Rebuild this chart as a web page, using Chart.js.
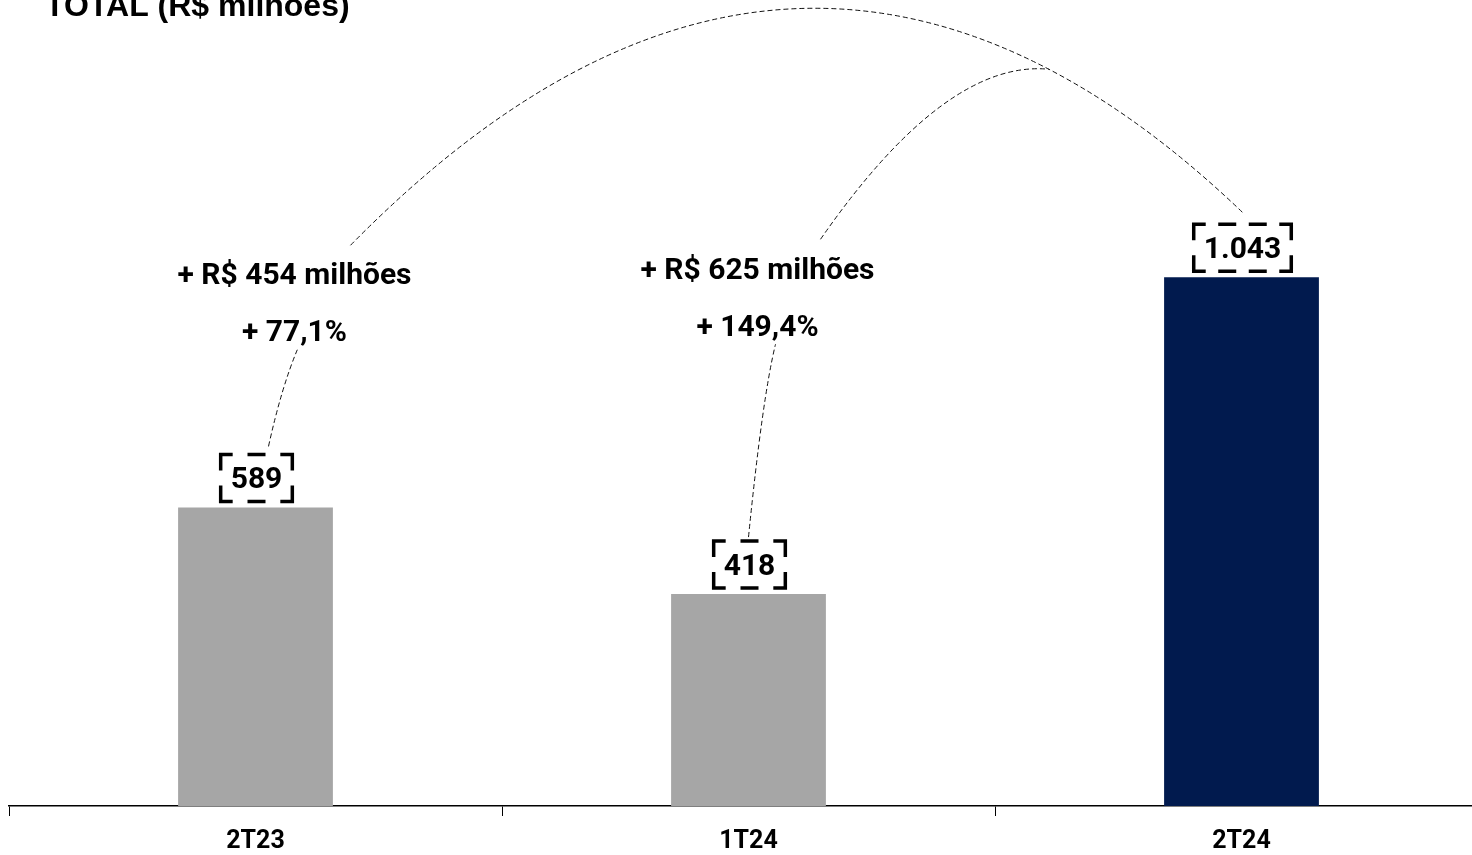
<!DOCTYPE html>
<html>
<head>
<meta charset="utf-8">
<script src="https://cdn.jsdelivr.net/npm/chart.js@4.4.1/dist/chart.umd.min.js"></script>
<style>
    html, body { margin: 0; padding: 0; background: #fff; overflow: hidden; }
    #wrap { position: relative; width: 1500px; height: 855px; }
</style>
</head>
<body>
<div id="wrap"><canvas id="total_chart"></canvas></div>
<script>
const periods = ['2T23', '1T24', '2T24'];
const totals = [589, 418, 1043];
const barColors = ['#a6a6a6', '#a6a6a6', '#011a4e'];
const deltaLabels = ['+ R$ 454 milhões', '+ R$ 625 milhões'];
const pctLabels = ['+ 77,1%', '+ 149,4%'];
const chartTitle = 'TOTAL (R$ milhões)';

// brazilian thousands separator
const fmt = v => String(v).replace(/\B(?=(\d{3})+(?!\d))/g, '.');

function dashedBox(ctx, x, y, w, h) {
    const c = 12, cv = 16, d = 18, g = 14;
    ctx.beginPath();
    ctx.moveTo(x + c, y); ctx.lineTo(x, y); ctx.lineTo(x, y + cv);
    ctx.moveTo(x + w - c, y); ctx.lineTo(x + w, y); ctx.lineTo(x + w, y + cv);
    ctx.moveTo(x, y + h - cv); ctx.lineTo(x, y + h); ctx.lineTo(x + c, y + h);
    ctx.moveTo(x + w, y + h - cv); ctx.lineTo(x + w, y + h); ctx.lineTo(x + w - c, y + h);
    const inner = w - 2 * c;
    const n = Math.max(0, Math.round((inner - g) / (d + g)));
    const gap = (inner - n * d) / (n + 1);
    for (let i = 0; i < n; i++) {
        const sx = x + c + gap + i * (d + gap);
        ctx.moveTo(sx, y); ctx.lineTo(sx + d, y);
        ctx.moveTo(sx, y + h); ctx.lineTo(sx + d, y + h);
    }
    const innerV = h - 2 * cv;
    const nv = Math.max(0, Math.round((innerV - g) / (d + g)));
    const gapV = (innerV - nv * d) / (nv + 1);
    for (let i = 0; i < nv; i++) {
        const sy = y + cv + gapV + i * (d + gapV);
        ctx.moveTo(x, sy); ctx.lineTo(x, sy + d);
        ctx.moveTo(x + w, sy); ctx.lineTo(x + w, sy + d);
    }
    ctx.stroke();
}

const annotations = {
    id: 'annotations',
    afterDatasetsDraw(chart) {
        const ctx = chart.ctx;
        const bars = chart.getDatasetMeta(0).data;
        const topRef = bars[2].y;
        ctx.save();

        // title (cut at the top like the original slide)
        ctx.fillStyle = '#000';
        ctx.font = 'bold 32px "Liberation Sans", Arial, sans-serif';
        ctx.textAlign = 'left';
        ctx.textBaseline = 'alphabetic';
        ctx.fillText(chartTitle, 45, 16);

        // value boxes
        ctx.font = 'bold 30px Roboto, sans-serif';
        ctx.textAlign = 'center';
        ctx.strokeStyle = '#000';
        ctx.lineWidth = 3.5;
        const boxTops = [];
        bars.forEach((bar, i) => {
            const txt = fmt(totals[i]);
            const w = ctx.measureText(txt).width + 20;
            const h = 47;
            const bottom = bar.y - 6;
            ctx.setLineDash([]);
            dashedBox(ctx, bar.x + 1 - w / 2, bottom - h, w, h);
            ctx.fillText(txt, bar.x + 1, bottom - 13);
            boxTops.push(bottom - h);
        });

        // variation labels
        ctx.font = 'bold 30px Roboto, sans-serif';
        const lay = [{ dx: 39, dy: 7 }, { dx: 9, dy: 2 }];
        deltaLabels.forEach((txt, i) => {
            const cx = bars[i].x + lay[i].dx;
            ctx.fillText(txt, cx, topRef + lay[i].dy);
            ctx.fillText(pctLabels[i], cx, topRef + lay[i].dy + 57);
        });

        // thin dashed connectors
        ctx.lineWidth = 1;
        ctx.strokeStyle = '#111';
        ctx.setLineDash([5, 3]);

        const x0 = bars[0].x, x1 = bars[1].x, x2 = bars[2].x;
        ctx.beginPath();
        ctx.moveTo(x0 + 13, boxTops[0] - 8);
        ctx.quadraticCurveTo(x0 + 26, topRef + 110, x0 + 42, topRef + 72);
        ctx.stroke();

        ctx.beginPath();
        ctx.moveTo(x1, boxTops[1] - 4);
        ctx.quadraticCurveTo(x1 + 14, topRef + 120, x1 + 27, topRef + 67);
        ctx.stroke();

        // outer arc 2T23 -> 2T24
        const sx = x0 + 95, sy = topRef - 32;
        const ex = x2 + 3, ey = boxTops[2] - 10;
        const cx = (sx + ex) / 2 + 3, cy = ey - 427;
        ctx.beginPath();
        ctx.moveTo(sx, sy);
        ctx.quadraticCurveTo(cx, cy, ex, ey);
        ctx.stroke();

        // inner arc 1T24 -> joins outer arc
        const t = 0.78;
        const jx = (1 - t) * (1 - t) * sx + 2 * t * (1 - t) * cx + t * t * ex;
        const jy = (1 - t) * (1 - t) * sy + 2 * t * (1 - t) * cy + t * t * ey;
        ctx.beginPath();
        ctx.moveTo(x1 + 72, topRef - 38);
        ctx.quadraticCurveTo(x1 + 197, topRef - 218, jx, jy);
        ctx.stroke();

        ctx.restore();
    }
};

document.fonts.load('bold 30px Roboto').then(() => {
    const total_ctx = document.getElementById('total_chart').getContext('2d');
    const total_chart = new Chart(total_ctx, {
        type: 'bar',
        data: {
            labels: periods,
            datasets: [
                {
                    data: totals,
                    backgroundColor: barColors,
                    borderWidth: 0,
                    barPercentage: 0.314,
                    categoryPercentage: 1
                }
            ]
        },
        options: {
            responsive: true,
            maintainAspectRatio: false,
            animation: false,
            layout: { padding: { left: 9, right: 12, top: 0, bottom: 0 } },
            plugins: {
                legend: { display: false },
                tooltip: { enabled: false },
                title: { display: false }
            },
            scales: {
                x: {
                    offset: true,
                    afterFit(scale) { scale.height = 49; },
                    border: { display: true, color: '#000', width: 1.5 },
                    grid: {
                        offset: true,
                        drawOnChartArea: false,
                        drawTicks: true,
                        tickLength: 10,
                        color: '#000',
                        lineWidth: 1
                    },
                    ticks: {
                        color: '#000',
                        padding: 11,
                        font: { family: 'Roboto, sans-serif', size: 25, weight: 'bold' }
                    }
                },
                y: {
                    display: false,
                    min: 0,
                    max: 1590
                }
            }
        },
        plugins: [annotations]
    });
});
</script>
</body>
</html>
